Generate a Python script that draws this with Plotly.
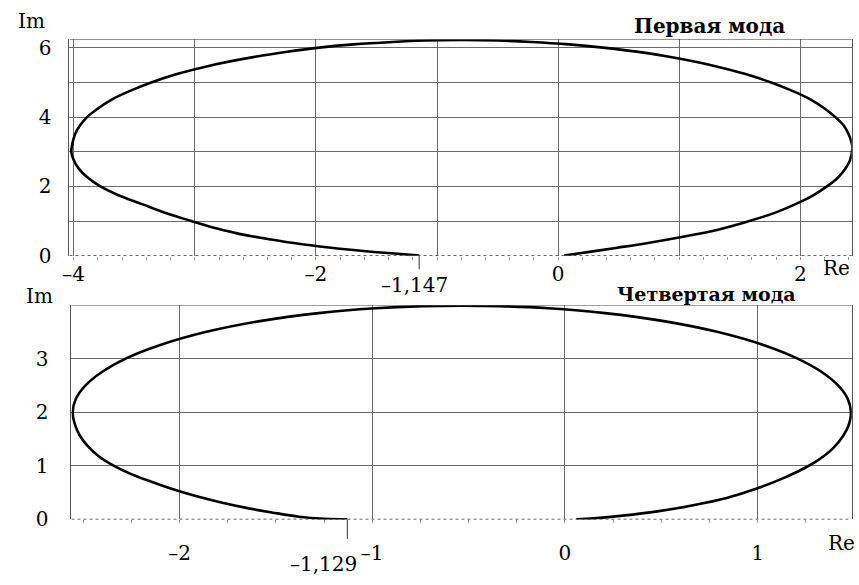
import plotly.graph_objects as go

# First mode hodograph: (Re, Im) points along the curve
mode1_re = [-1.147, -1.35, -1.565, -1.78, -2.00, -2.20, -2.38, -2.53, -2.66, -2.85,
            -3.03, -3.24, -3.43, -3.64, -3.79, -3.89, -3.96, -4.00, -4.02, -4.01,
            -3.99, -3.95, -3.89, -3.80, -3.69, -3.54, -3.36, -3.14, -2.86, -2.49,
            -2.25, -1.99, -1.69, -1.37, -1.10, -0.80, -0.50, -0.22, 0.09, 0.39,
            0.65, 0.905, 1.265, 1.54, 1.76, 1.94, 2.09, 2.20, 2.29, 2.36,
            2.40, 2.425, 2.43, 2.41, 2.37, 2.31, 2.22, 2.11, 1.97, 1.80,
            1.58, 1.32, 1.02, 0.73, 0.49, 0.30, 0.15, 0.05]
mode1_im = [0.00, 0.06, 0.12, 0.19, 0.28, 0.37, 0.47, 0.56, 0.65, 0.81,
            1.00, 1.23, 1.48, 1.76, 2.02, 2.27, 2.52, 2.76, 3.00, 3.25,
            3.50, 3.75, 4.00, 4.25, 4.50, 4.75, 5.00, 5.25, 5.50, 5.75,
            5.88, 6.00, 6.10, 6.17, 6.21, 6.225, 6.21, 6.17, 6.10, 6.00,
            5.89, 5.75, 5.50, 5.25, 5.00, 4.75, 4.50, 4.25, 4.00, 3.75,
            3.50, 3.25, 3.10, 2.75, 2.50, 2.25, 2.00, 1.75, 1.50, 1.25,
            1.00, 0.75, 0.54, 0.36, 0.23, 0.13, 0.055, 0.00]

# Fourth mode hodograph
mode4_re = [-1.129, -1.25, -1.38, -1.52, -1.66, -1.80, -1.93, -2.05, -2.16, -2.26,
            -2.34, -2.42, -2.48, -2.52, -2.545, -2.555, -2.538, -2.488, -2.403, -2.28,
            -2.104, -1.86, -1.583, -1.278, -0.984, -0.737, -0.535, -0.333, -0.086, 0.208,
            0.513, 0.79, 1.034, 1.208, 1.333, 1.418, 1.468, 1.485, 1.475, 1.445,
            1.39, 1.32, 1.24, 1.14, 1.00, 0.84, 0.66, 0.48, 0.30, 0.15, 0.06]
mode4_im = [0.00, 0.01, 0.05, 0.13, 0.22, 0.33, 0.45, 0.58, 0.72, 0.86,
            1.00, 1.18, 1.38, 1.58, 1.79, 2.00, 2.25, 2.50, 2.75, 3.00,
            3.25, 3.50, 3.70, 3.85, 3.94, 3.98, 3.99, 3.98, 3.94, 3.85,
            3.70, 3.50, 3.25, 3.00, 2.75, 2.50, 2.25, 2.00, 1.78, 1.56,
            1.32, 1.12, 0.95, 0.78, 0.58, 0.40, 0.26, 0.15, 0.07, 0.02, 0.00]

# Axis ticks and labels
top_x_vals = [-4, -3, -2, -1, 0, 1, 2]
top_x_text = ["\u20134", "", "\u20132", "", "0", "", "2"]
top_y_vals = [0, 1, 2, 3, 4, 5, 6]
top_y_text = ["0", "", "2", "", "4", "", "6"]
bot_x_vals = [-2, -1, 0, 1]
bot_x_text = ["\u20132", "\u20131", "0", "1"]
bot_y_vals = [0, 1, 2, 3]
bot_y_text = ["0", "1", "2", "3"]

root1 = -1.147
root4 = -1.129
root1_text = "\u20131,147"
root4_text = "\u20131,129"

top_xr = [-4.035, 2.425]
top_yr = [0, 6.245]
bot_xr = [-2.561, 1.489]
bot_yr = [0, 4.0]

W, H = 859, 585
top_dx = [63.0 / W, 851.7 / W]
top_dy = [1 - 259.3 / H, 1 - 37.3 / H]
bot_dx = [65.0 / W, 851.7 / W]
bot_dy = [1 - 530.0 / H, 1 - 310.0 / H]

FONT = "DejaVu Serif"
FS = 20
GRID = "#6a6a6a"
BORDER = "#555555"

fig = go.Figure()
fig.add_trace(go.Scatter(x=mode1_re, y=mode1_im, mode="lines",
                         line=dict(color="black", width=2.6, shape="spline", smoothing=1.0),
                         xaxis="x", yaxis="y", showlegend=False, cliponaxis=False))
fig.add_trace(go.Scatter(x=mode4_re, y=mode4_im, mode="lines",
                         line=dict(color="black", width=2.6, shape="spline", smoothing=1.0),
                         xaxis="x2", yaxis="y2", showlegend=False, cliponaxis=False))

common_x = dict(showline=False, showgrid=True, gridcolor=GRID, gridwidth=1,
                zeroline=False, ticks="", tickmode="array",
                tickfont=dict(family=FONT, size=FS, color="black"))
common_y = dict(showline=True, mirror=True, linecolor=BORDER, linewidth=1,
                showgrid=True, gridcolor=GRID, gridwidth=1, zeroline=False,
                ticks="", tickmode="array",
                tickfont=dict(family=FONT, size=FS, color="black"))

fig.update_layout(
    width=W, height=H,
    margin=dict(l=0, r=0, t=0, b=0),
    paper_bgcolor="white", plot_bgcolor="white",
    font=dict(family=FONT),
    xaxis=dict(common_x, domain=top_dx, range=top_xr, anchor="y",
               tickvals=top_x_vals, ticktext=top_x_text, ticklabelstandoff=4,
               minor=dict(dtick=0.2, tick0=0, ticks="outside", ticklen=3,
                          tickcolor="#999999", showgrid=False)),
    yaxis=dict(common_y, domain=top_dy, range=top_yr, anchor="x",
               tickvals=top_y_vals, ticktext=top_y_text, ticklabelstandoff=13),
    xaxis2=dict(common_x, domain=bot_dx, range=bot_xr, anchor="y2",
                tickvals=bot_x_vals, ticktext=bot_x_text, ticklabelstandoff=20,
                minor=dict(dtick=0.25, tick0=0, ticks="outside", ticklen=3,
                           tickcolor="#999999", showgrid=False)),
    yaxis2=dict(common_y, domain=bot_dy, range=bot_yr, anchor="x2",
                tickvals=bot_y_vals, ticktext=bot_y_text, ticklabelstandoff=18),
)

# Frame: solid top edge, dotted real axis along the bottom
for xr, yr, xa, ya in [(top_xr, top_yr, "x", "y"), (bot_xr, bot_yr, "x2", "y2")]:
    fig.add_shape(type="line", xref=xa, yref=ya, x0=xr[0], x1=xr[1], y0=yr[1], y1=yr[1],
                  line=dict(color=BORDER, width=1))
    fig.add_shape(type="line", xref=xa, yref=ya, x0=xr[0], x1=xr[1], y0=0, y1=0,
                  line=dict(color="#333333", width=1.5, dash="dot"))

# Marks at the curve's starting point on the real axis
fig.add_shape(type="line", xref="x", yref="paper", x0=root1, x1=root1,
              y0=top_dy[0], y1=top_dy[0] - 14 / H, line=dict(color="#555555", width=1.2))
fig.add_shape(type="line", xref="x2", yref="paper", x0=root4, x1=root4,
              y0=bot_dy[0], y1=bot_dy[0] - 20 / H, line=dict(color="#555555", width=1.2))

def ann(text, x, y, size=FS, bold=False, xref="paper", xanchor="center", xshift=0):
    fig.add_annotation(text=f"<b>{text}</b>" if bold else text,
                       x=x, y=y, xref=xref, yref="paper", xanchor=xanchor, yanchor="middle",
                       xshift=xshift, showarrow=False,
                       font=dict(family=FONT, size=size, color="black"))

ann(root1_text, root1, 1 - 289 / H, xref="x", xshift=-5)
ann(root4_text, root4, 1 - 576 / H, xref="x2", xshift=-24)
ann("Im", 25 / W, 1 - 18 / H)
ann("Im", 33 / W, 1 - 301 / H)
ann("Re", 836 / W, 1 - 272 / H)
ann("Re", 841 / W, 1 - 554 / H)
ann("Первая мода", 708 / W, 1 - 24 / H, size=20, bold=True)
ann("Четвертая мода", 705 / W, 1 - 299 / H, size=19, bold=True)

fig.write_html("out.html")
